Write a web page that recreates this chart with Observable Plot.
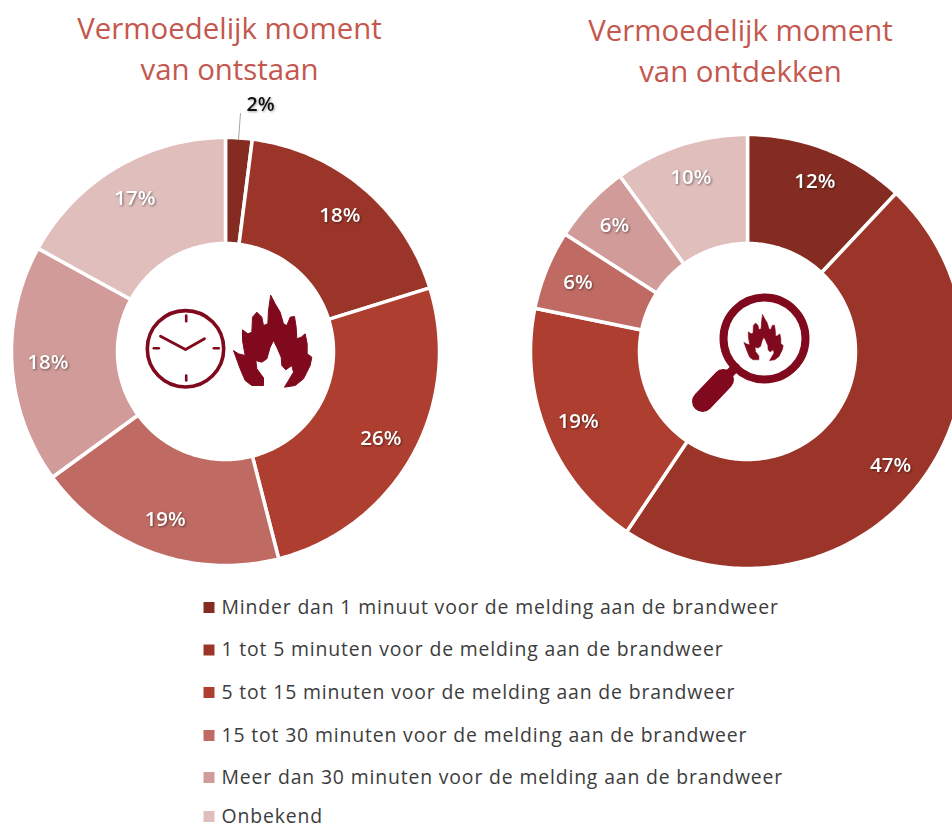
<!DOCTYPE html>
<html><head><meta charset="utf-8">
<script src="https://cdn.jsdelivr.net/npm/d3@7"></script>
<script src="https://cdn.jsdelivr.net/npm/@observablehq/plot@0.6"></script>
<style>
html,body{margin:0;padding:0;background:#fff;overflow:hidden;width:952px;height:828px}
.lbl{filter:drop-shadow(1px 1px 1px rgba(0,0,0,.45))}
.lbldark{filter:drop-shadow(1px 1px 1px rgba(0,0,0,.35))}
.leg text{letter-spacing:.85px}
svg{filter:blur(.35px)}
</style></head><body><div id="chart"></div>
<script>
const categories = [
  "Minder dan 1 minuut voor de melding aan de brandweer",
  "1 tot 5 minuten voor de melding aan de brandweer",
  "5 tot 15 minuten voor de melding aan de brandweer",
  "15 tot 30 minuten voor de melding aan de brandweer",
  "Meer dan 30 minuten voor de melding aan de brandweer",
  "Onbekend"
];
const colors = ["#842c22","#9c3529","#ae3e30","#bf6a62","#d09b98","#e0bebc"];
const ontstaan = [2,18.2,25.8,19,18,17];
const ontdekken = [12,47.4,18.8,5.9,5.9,10];
const titleLeft = ["Vermoedelijk moment","van ontstaan"];
const titleRight = ["Vermoedelijk moment","van ontdekken"];
const iconColor = "#80091d";
// flame outline used for the two decorative icons (in icon units)
const flame = [[127,15],[140,40],[155,65],[165,100],[175,105],[185,80],[198,78],[203,110],[205,145],[218,140],[230,130],[236,160],[236,190],[250,200],[245,225],[225,265],[200,285],[168,290],[180,270],[195,245],[190,225],[172,238],[160,225],[158,200],[145,170],[135,150],[125,170],[115,205],[100,215],[82,210],[85,235],[105,262],[105,285],[70,285],[50,270],[35,235],[15,180],[30,190],[50,195],[42,150],[42,118],[58,130],[70,125],[72,80],[85,65],[100,80],[105,105],[118,100],[120,60]];

function donut(values, name, cx, cy, R, r, labelR) {
  const slices = [], labels = [];
  let acc = 0;
  values.forEach((v, i) => {
    const a0 = acc / 100 * 2 * Math.PI, a1 = (acc + v) / 100 * 2 * Math.PI;
    const n = Math.max(2, Math.ceil(v * 4));
    const key = name + i;
    for (let k = 0; k <= n; k++) {
      const a = a0 + (a1 - a0) * k / n;
      slices.push({key, cat: categories[i], x: cx + R * Math.sin(a), y: cy - R * Math.cos(a)});
    }
    for (let k = n; k >= 0; k--) {
      const a = a0 + (a1 - a0) * k / n;
      slices.push({key, cat: categories[i], x: cx + r * Math.sin(a), y: cy - r * Math.cos(a)});
    }
    const m = (a0 + a1) / 2;
    labels.push({v: Math.round(v), x: cx + labelR * Math.sin(m), y: cy - labelR * Math.cos(m)});
    acc += v;
  });
  return {slices, labels};
}
const L = donut(ontstaan, "L", 225, 351, 214, 108, 178);
const Rr = donut(ontdekken, "R", 747, 351, 217, 108, 183);
const labelsL = L.labels.filter(d => d.v > 2);
const flamePts = (ox, oy, s) => flame.map(([a, b]) => ({x: ox + a / 3 * s, y: oy + b / 3 * s}));
const bigFlame = flamePts(228, 290, 1);
const smallFlame = flamePts(740.8, 311.5, .503);
const legendY = [607,649.5,692,735,777,816];
const legend = categories.map((c, i) => ({c, y: legendY[i]}));
const clockTicks = [
  {k:"t",x:185.7,y:315},{k:"t",x:185.7,y:320.7},{k:"b",x:185.7,y:375},{k:"b",x:185.7,y:380},
  {k:"l",x:153.3,y:347.7},{k:"l",x:158.3,y:347.7},{k:"r",x:213.3,y:347.7},{k:"r",x:218.3,y:347.7}
];
const clockHands = [{x:160,y:335.7},{x:185,y:349},{x:204,y:338.3}];
const titleFont = {fontFamily:"Open Sans",fontSize:29.4,fill:"#c4574e",textAnchor:"middle"};
const valueFont = {fontFamily:"Open Sans",fontSize:20.5,fontWeight:600};
const plot = Plot.plot({
  width:952,height:828,margin:0,
  x:{domain:[0,952],range:[0,952],axis:null},
  y:{domain:[0,828],range:[0,828],axis:null},
  color:{domain:categories,range:colors},
  style:{background:"#fff",overflow:"hidden"},
  marks:[
    Plot.line(L.slices,{x:"x",y:"y",z:"key",fill:"cat",stroke:"white",strokeWidth:3.5,curve:"linear-closed"}),
    Plot.line(Rr.slices,{x:"x",y:"y",z:"key",fill:"cat",stroke:"white",strokeWidth:3.5,curve:"linear-closed"}),
    Plot.text(labelsL,{x:"x",y:"y",text:d=>d.v+"%",fill:"#fff",...valueFont,className:"lbl"}),
    Plot.text(Rr.labels,{x:"x",y:"y",text:d=>d.v+"%",fill:"#fff",...valueFont,className:"lbl"}),
    Plot.line([{x:238,y:139},{x:240,y:113}],{x:"x",y:"y",stroke:"#a6a6a6",strokeWidth:1}),
    Plot.text(["2%"],{x:[260],y:[104],text:d=>d,fill:"#111",...valueFont,fontSize:19.5,className:"lbldark"}),
    Plot.text(titleLeft,{x:[229,229],y:[29,70],text:d=>d,...titleFont}),
    Plot.text(titleRight,{x:[740,740],y:[31,72],text:d=>d,...titleFont}),
    // clock icon
    Plot.dot([{x:185,y:348.3}],{x:"x",y:"y",r:38.2,stroke:iconColor,strokeWidth:3.6,fill:"none"}),
    Plot.line(clockTicks,{x:"x",y:"y",z:"k",stroke:iconColor,strokeWidth:2.6}),
    Plot.line(clockHands,{x:"x",y:"y",stroke:iconColor,strokeWidth:2.8}),
    Plot.line(bigFlame,{x:"x",y:"y",fill:iconColor,stroke:iconColor,strokeWidth:1,curve:"linear-closed"}),
    // magnifier icon
    Plot.dot([{x:764,y:338}],{x:"x",y:"y",r:41,stroke:iconColor,strokeWidth:8,fill:"none"}),
    Plot.line([{x:735,y:367},{x:722,y:380}],{x:"x",y:"y",stroke:iconColor,strokeWidth:9}),
    Plot.line([{x:723,y:379},{x:702,y:401}],{x:"x",y:"y",stroke:iconColor,strokeWidth:21,strokeLinecap:"round"}),
    Plot.line(smallFlame,{x:"x",y:"y",fill:iconColor,stroke:iconColor,strokeWidth:.5,curve:"linear-closed"}),
    // legend
    Plot.dot(legend,{x:()=>208.5,y:"y",symbol:"square",r:6.2,fill:"c",stroke:"none"}),
    Plot.text(legend,{x:()=>221,y:"y",text:"c",textAnchor:"start",fill:"#3c3c3c",fontFamily:"Open Sans",fontSize:19.4,className:"leg"})
  ]
});
document.getElementById("chart").appendChild(plot);
</script></body></html>
